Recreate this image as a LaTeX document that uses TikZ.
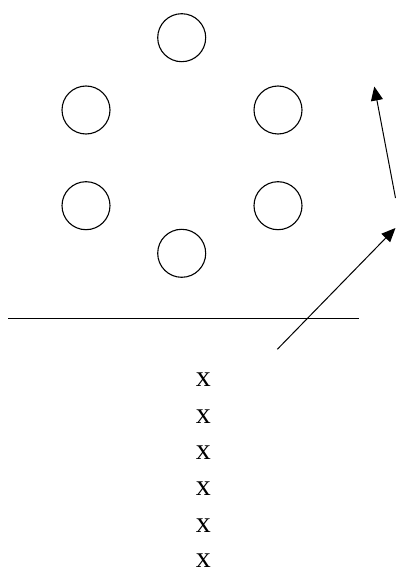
\documentclass[tikz,border=0pt]{standalone}
\usepackage{fontspec}
\setmainfont{Liberation Serif}
\usetikzlibrary{arrows.meta}
\tikzset{
  ring/.style={draw, circle, minimum size=48bp, inner sep=0pt, line width=1.1bp},
  push/.style={-{Triangle[length=14bp, width=12bp]}, line width=1bp},
  floor/.style={line width=0.9bp},
  mark x/.style={font=\fontsize{30}{34}\selectfont, inner sep=0pt}
}
\begin{document}
\begin{tikzpicture}[x=1bp, y=-1bp]
\useasboundingbox (0,0) rectangle (396,569);

\node[ring] (top) at (181.7,37.7) {};
\node[ring] (upL) at (86,110) {};
\node[ring] (upR) at (278,110) {};
\node[ring] (loL) at (86,205.7) {};
\node[ring] (loR) at (278,205.7) {};
\node[ring] (bot) at (181.7,253.3) {};

\coordinate (floorL) at (8,318.3);
\coordinate (floorR) at (359.3,318.3);
\draw[floor] (floorL) -- (floorR);

\coordinate (tailA) at (395.5,198);
\coordinate (tipA) at (374.3,86.5);
\draw[push] (tailA) -- (tipA);

\coordinate (tailB) at (277.3,349.3);
\coordinate (tipB) at (395.5,228);
\draw[push] (tailB) -- (tipB);

\node[mark x] (x1) at (203.3,380) {x};
\node[mark x] (x2) at (203.3,416.3) {x};
\node[mark x] (x3) at (203.3,452.6) {x};
\node[mark x] (x4) at (203.3,488.9) {x};
\node[mark x] (x5) at (203.3,525.2) {x};
\node[mark x] (x6) at (203.3,560.5) {x};

\end{tikzpicture}
\end{document}
